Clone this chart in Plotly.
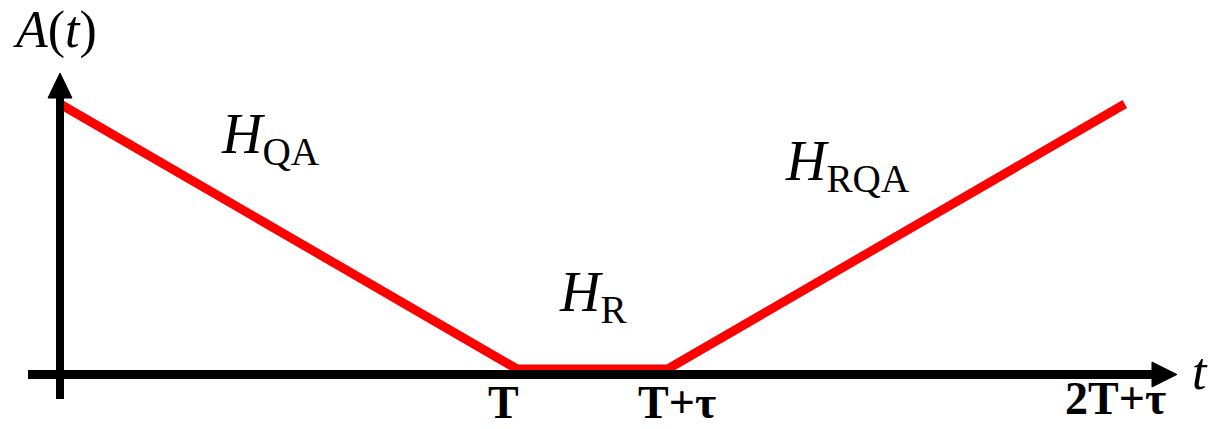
"""
Annealing schedule sketch: A(t) for QA -> R -> RQA.
"""
import plotly.graph_objects as go

# time unit T and pause tau (relative to T)
T = 1.0
TAU = 0.33

# schedule breakpoints and A(t) values
t_points = [0, T, T + TAU, 2 * T + TAU]
a_values = [1.0, 0.0, 0.0, 1.0]

# x tick labels
tick_vals = [T, T + TAU, 2 * T + TAU]
tick_text = ["T", "T+τ", "2T+τ"]

# segment labels
seg_text = ["<i>H</i><sub>QA</sub>", "<i>H</i><sub>R</sub>", "<i>H</i><sub>RQA</sub>"]
seg_x = [0.46, 1.166, 1.724]
seg_y = [0.873, 0.275, 0.771]

SERIF = "Liberation Serif, Times New Roman, serif"

fig = go.Figure()
fig.add_trace(go.Scatter(
    x=t_points, y=a_values, mode="lines",
    line=dict(color="#FF0000", width=9),
    hoverinfo="skip", showlegend=False,
))

shapes = [
    # x axis
    dict(type="line", x0=-0.070, x1=2.40, y0=-0.0208, y1=-0.0208,
         line=dict(color="black", width=9)),
    dict(type="path", path="M 2.3895 -0.068 L 2.444 -0.0208 L 2.3895 0.0264 Z",
         fillcolor="black", line=dict(color="black", width=1)),
    # y axis
    dict(type="line", x0=0, x1=0, y0=-0.113, y1=1.03,
         line=dict(color="black", width=8)),
    dict(type="path", path="M -0.0263 1.0226 L 0 1.117 L 0.0263 1.0226 Z",
         fillcolor="black", line=dict(color="black", width=1)),
]

annotations = []
for v, txt in zip(tick_vals, tick_text):
    annotations.append(dict(
        x=v, y=-0.113 if v > 2 else -0.128, text=f"<b>{txt}</b>",
        showarrow=False, xanchor="center", yanchor="middle",
        font=dict(family=SERIF, size=46, color="black"),
    ))
annotations[0]["x"] = T - 0.03
annotations[1]["x"] = T + TAU + 0.02
annotations[2]["x"] = 2 * T + TAU - 0.02

for x, y, txt in zip(seg_x, seg_y, seg_text):
    annotations.append(dict(
        x=x, y=y, text=txt, showarrow=False, xanchor="center", yanchor="middle",
        font=dict(family=SERIF, size=56, color="black"),
    ))

annotations.append(dict(
    x=-0.011, y=1.28, text="<i>A</i>(<i>t</i>)", showarrow=False,
    xanchor="center", yanchor="middle",
    font=dict(family=SERIF, size=52, color="black"),
))
annotations.append(dict(
    x=2.495, y=-0.011, text="<i>t</i>", showarrow=False,
    xanchor="center", yanchor="middle",
    font=dict(family=SERIF, size=52, color="black"),
))

# the page body has an 8px margin, so the ranges are set for that offset
fig.update_layout(
    width=1222, height=429,
    margin=dict(l=0, r=0, t=0, b=0),
    paper_bgcolor="white", plot_bgcolor="white",
    xaxis=dict(range=[-0.1138, 2.5602], visible=False, fixedrange=True),
    yaxis=dict(range=[-0.2566, 1.3623], visible=False, fixedrange=True),
    shapes=shapes,
    annotations=annotations,
)

fig.write_html("out.html")
